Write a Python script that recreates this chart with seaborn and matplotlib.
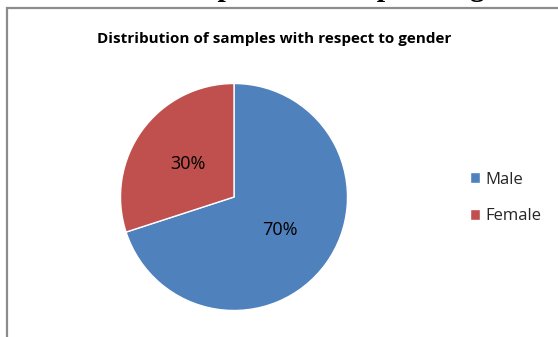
import matplotlib
matplotlib.use("Agg")
import matplotlib.pyplot as plt
import seaborn as sns
from matplotlib.patches import Rectangle

# Data
genders = ["Male", "Female"]
shares = [70, 30]
pie_colors = ["#4F81BD", "#C0504D"]
chart_title = "Distribution of samples with respect to gender"

sns.set_theme(style="white")
plt.rcParams["font.family"] = ["Open Sans", "DejaVu Sans"]

fig = plt.figure(figsize=(5.58, 3.37), dpi=100)

# caption of the document, cut off at the top edge (only descenders show)
fig.text(-31 / 558, 1.0133, chart_title, ha="left", va="baseline",
         fontsize=21.6, fontweight="bold", family="Liberation Serif", color="black")

# chart frame (runs off right and bottom edges)
fig.patches.append(Rectangle((7 / 558, -0.1), 1.2, (337 - 8) / 337 + 0.1,
                             transform=fig.transFigure, fill=False,
                             edgecolor="#8c8c8c", linewidth=1.6))

fig.text(274 / 558, 1 - 39 / 337, chart_title, ha="center", va="center",
         fontsize=11, fontweight="bold", color="black")

ax = fig.add_axes([(234 - 113.5) / 558, (337 - 197 - 113.5) / 337, 227 / 558, 227 / 337])
wedges, texts, autotexts = ax.pie(shares, colors=pie_colors, startangle=90, counterclock=False,
                                  autopct="%d%%", pctdistance=0.5, radius=1,
                                  textprops={"fontsize": 13, "color": "black"})
ax.set_xlim(-1, 1)
ax.set_ylim(-1, 1)
ax.set_aspect("equal")
ax.axis("off")

fig.legend(wedges, genders, loc="center left", bbox_to_anchor=(455 / 558, 1 - 198 / 337),
           frameon=False, fontsize=12, handlelength=0.6, handleheight=0.6,
           handletextpad=0.3, labelspacing=1.25)

fig.savefig("out.png", dpi=100)
